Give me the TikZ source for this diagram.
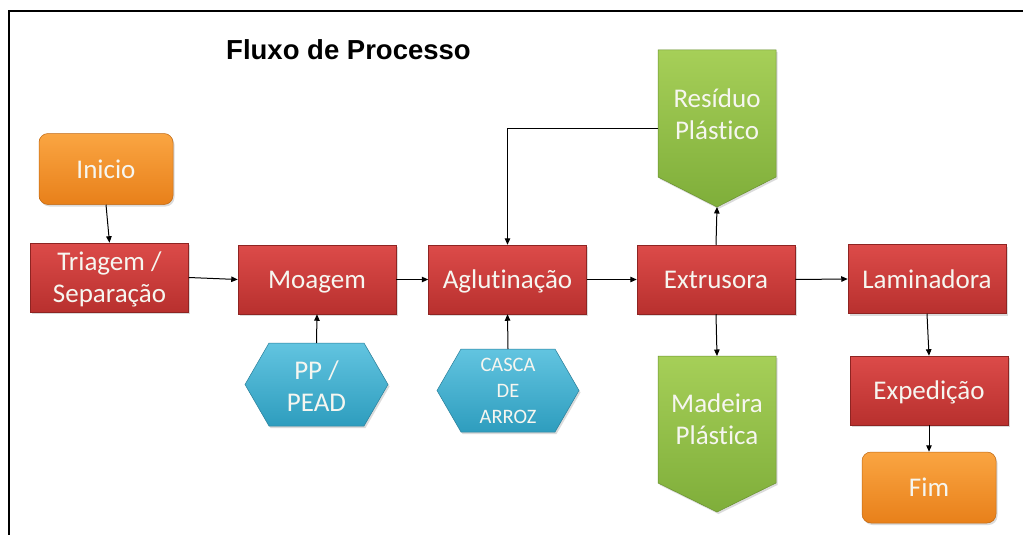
\documentclass[tikz,border=0pt]{standalone}
\usepackage{fontspec}
\setmainfont[Ligatures=NoCommon]{Carlito}
\newfontfamily\titlefont{Liberation Sans}
\usetikzlibrary{shadows,arrows.meta}
\definecolor{redA}{HTML}{DC4B49}
\definecolor{redB}{HTML}{B8302E}
\definecolor{redC}{HTML}{8E2422}
\definecolor{orA}{HTML}{FAA542}
\definecolor{orB}{HTML}{E8801A}
\definecolor{orC}{HTML}{C06812}
\definecolor{grA}{HTML}{A6CF58}
\definecolor{grB}{HTML}{7FAE3A}
\definecolor{grC}{HTML}{6A9130}
\definecolor{blA}{HTML}{62C4E0}
\definecolor{blB}{HTML}{2E9DBE}
\definecolor{blC}{HTML}{2A7F9A}
\definecolor{txt}{HTML}{F6F6F0}
\begin{document}
\begin{tikzpicture}[x=1pt,y=-1pt,
  shad/.style={drop shadow={opacity=0.28,shadow xshift=1.5pt,shadow yshift=-2pt}},
  redbox/.style={rectangle,minimum width=158pt,minimum height=69pt,top color=redA,bottom color=redB,draw=redC,line width=0.5pt,text=txt,font=\fontsize{27}{32}\selectfont,align=center,inner sep=0pt,text depth=0pt,shad},
  orbox/.style={rectangle,rounded corners=9pt,minimum width=134pt,minimum height=71pt,top color=orA,bottom color=orB,draw=orC,line width=0.5pt,text=txt,font=\fontsize{27}{32}\selectfont,align=center,inner sep=0pt,text depth=0pt,shad},
  grshape/.style={top color=grA,bottom color=grB,draw=grC,line width=0.5pt,shad},
  blshape/.style={top color=blA,bottom color=blB,draw=blC,line width=0.5pt,shad},
  lbl/.style={text=txt,font=\fontsize{27}{32}\selectfont,align=center,inner sep=0pt,text depth=0pt},
  smalllbl/.style={text=txt,font=\fontsize{20.5}{26}\selectfont,align=center,inner sep=0pt,text depth=0pt},
  conn/.style={line width=1pt,-{Triangle[length=6.5pt,width=5.5pt]}}
]
\useasboundingbox (0,0) rectangle (1023,535);
\fill[white] (0,0) rectangle (1023,535);
\draw[line width=1.2pt] (9,535) -- (9,11) -- (1023,11);

\node[font=\titlefont\bfseries\fontsize{27.5}{32}\selectfont] (title) at (348.5,50) {Fluxo de Processo};

% green shapes
\path[grshape] (658,50) -- (776,50) -- (776,177) -- (717,207) -- (658,177) -- cycle;
\coordinate (restip) at (717,207);
\coordinate (resleft) at (658,128);
\node[lbl] (res) at (717,114) {Resíduo\\Plástico};

\path[grshape] (658,356) -- (776,356) -- (776,483) -- (717,512) -- (658,483) -- cycle;
\coordinate (madtop) at (717,356);
\node[lbl] (mad) at (717,419) {Madeira\\Plástica};

% blue hexagons
\path[blshape] (245,384.5) -- (269,343) -- (364,343) -- (388,384.5) -- (364,426) -- (269,426) -- cycle;
\coordinate (pptop) at (316.5,343);
\node[lbl] (pp) at (316.5,386) {PP /\\PEAD};

\path[blshape] (437,390.5) -- (461,349) -- (555,349) -- (579,390.5) -- (555,432) -- (461,432) -- cycle;
\coordinate (castop) at (508,349);
\node[smalllbl] (cas) at (508,390.5) {CASCA\\DE\\ARROZ};

% boxes
\node[orbox] (ini) at (106,169) {Inicio};
\node[redbox] (tri) at (109.5,277.5) {Triagem /\\Separação};
\node[redbox] (moa) at (317,279.5) {Moagem};
\node[redbox] (agl) at (507.5,279.5) {Aglutinação};
\node[redbox] (ext) at (716,279.5) {Extrusora};
\node[redbox] (lam) at (927,279) {Laminadora};
\node[redbox] (exp) at (929,390.5) {Expedição};
\node[orbox] (fim) at (929,487.5) {Fim};

% connectors
\draw[conn] (ini.south) -- (tri.north);
\draw[conn] (tri.east) -- (moa.west);
\draw[conn] (moa.east) -- (agl.west);
\draw[conn] (agl.east) -- (ext.west);
\draw[conn] (ext.east) -- (lam.west);
\draw[conn] (ext.north) -- (restip);
\draw[conn] (resleft) -| (agl.north);
\draw[conn] (ext.south) -- (madtop);
\draw[conn] (lam.south) -- (exp.north);
\draw[conn] (exp.south) -- (fim.north);
\draw[conn] (pptop) -- (moa.south);
\draw[conn] (castop) -- (agl.south);
\end{tikzpicture}
\end{document}
